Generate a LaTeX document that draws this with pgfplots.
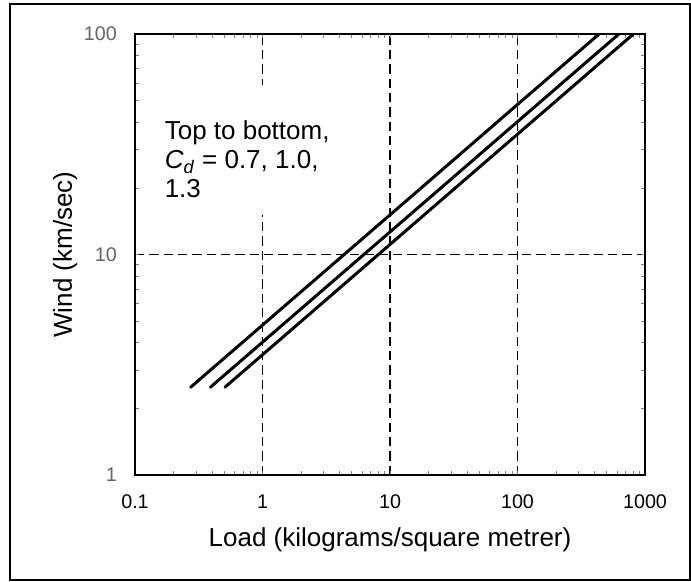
\documentclass[border=0pt]{standalone}
\usepackage{pgfplots}
\pgfplotsset{compat=1.18}
\usepackage{fontspec}
\setmainfont{Liberation Sans}
\definecolor{ticklbl}{RGB}{100,100,100}

\begin{document}
\begin{tikzpicture}[x=0.75pt,y=0.75pt]
% units are pixels of the reference, axis box lower left at (0,0)
\useasboundingbox (-135,-106) rectangle (556,475);
\draw[line width=1.5pt] (-125,-105) rectangle (555,471);

\begin{axis}[
    at={(0,0)}, anchor=south west,
    scale only axis, width=382.5pt, height=330.75pt,
    xmode=log, ymode=log,
    xmin=0.1, xmax=1000, ymin=1, ymax=100,
    xtick={0.1,1,10,100,1000}, xticklabels={0.1,1,10,100,1000},
    ytick={1,10,100}, yticklabels={1,10,100},
    major tick length=0pt, minor tick num=0,
    axis line style={line width=1.5pt},
    grid=major,
    major grid style={black, line width=1.3pt, dash pattern=on 7pt off 3.75pt},
    tick label style={font=\fontsize{14.8}{17}\selectfont},
    xticklabel style={anchor=base, yshift=-24.75pt, inner sep=0pt},
    yticklabel style={anchor=east, xshift=-13.5pt, inner sep=0pt, text=ticklbl},
    xlabel={Load (kilograms/square metrer)},
    ylabel={Wind (km/sec)},
    label style={font=\fontsize{19.5}{23}\selectfont, inner sep=0pt},
    xlabel style={at={([yshift=-53.25pt]axis description cs:0.5,0)}, anchor=base},
    ylabel style={at={([xshift=-47.25pt]axis description cs:0,0.5)}, anchor=base},
  ]
  % top to bottom: Cd = 0.7, 1.0, 1.3
  \addplot[black, line width=2.25pt, line cap=round] coordinates {
    (0.273,2.5) (1.092,5) (4.37,10) (17.5,20) (109,50) (437,100)};
  \addplot[black, line width=2.25pt, line cap=round] coordinates {
    (0.390,2.5) (1.56,5) (6.24,10) (25.0,20) (156,50) (624,100)};
  \addplot[black, line width=2.25pt, line cap=round] coordinates {
    (0.507,2.5) (2.03,5) (8.11,10) (32.4,20) (203,50) (811,100)};
\end{axis}

\fill[white] (20,260) rectangle (210,390);
\begin{scope}[every node/.style={anchor=base west, inner sep=0pt, font=\fontsize{19.5}{23}\selectfont}]
  \node at (29.5,335) {Top to bottom,};
  \node at (29.5,306) {\textit{C}\textsubscript{\textit{d}} = 0.7, 1.0,};
  \node at (29.5,277) {1.3};
\end{scope}
\end{tikzpicture}
\end{document}
